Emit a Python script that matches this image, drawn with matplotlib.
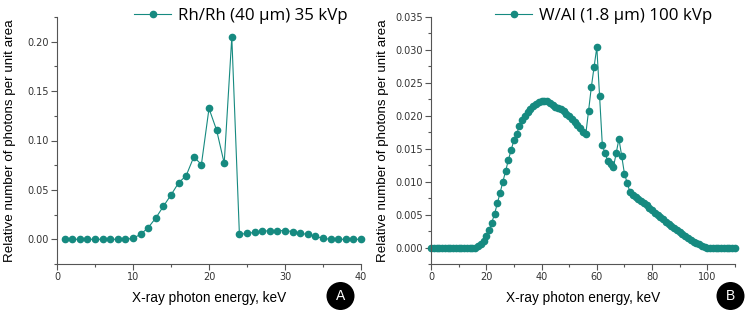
import matplotlib
matplotlib.use("Agg")
import matplotlib.pyplot as plt
from matplotlib.patches import Ellipse
from matplotlib.ticker import MultipleLocator, FormatStrFormatter

# Panel A: Rh/Rh (40 um) 35 kVp
energy_a = list(range(1, 41))
photons_a = [0, 0, 0, 0, 0, 0, 0, 0, 0, 0.001,
             0.005, 0.0118, 0.0216, 0.0334, 0.0449, 0.0571, 0.0645, 0.0834, 0.0757, 0.1324,
             0.1105, 0.077, 0.2047, 0.005, 0.006, 0.007, 0.008, 0.0088, 0.0088, 0.0088,
             0.0078, 0.006, 0.005, 0.003, 0.001, 0, 0, 0, 0, 0]

# Panel B: W/Al (1.8 um) 100 kVp
energy_b = list(range(0, 111))
photons_b = ([0] * 17 +
             [0.0002, 0.0005, 0.001, 0.0017, 0.0026, 0.0038, 0.0051, 0.0067, 0.0083, 0.0100,
              0.0116, 0.0133, 0.0148, 0.0163, 0.0173, 0.0184, 0.0193, 0.0200, 0.0206, 0.0211,
              0.0215, 0.0218, 0.0221, 0.0223, 0.0223, 0.0222, 0.0220, 0.0217, 0.0214, 0.0212,
              0.0210, 0.0207, 0.0203, 0.0199, 0.0195, 0.0190, 0.0186, 0.0181, 0.0176, 0.0172,
              0.0207, 0.0243, 0.0274, 0.0304, 0.0230, 0.0155, 0.0143, 0.0131, 0.0127, 0.0122,
              0.0143, 0.0165, 0.0139, 0.0112, 0.0098, 0.0084, 0.0080, 0.0076, 0.0073, 0.0070,
              0.0067, 0.0064, 0.0060, 0.0057, 0.0053, 0.0050, 0.0046, 0.0043, 0.0039, 0.0036,
              0.0033, 0.0029, 0.0026, 0.0023, 0.0020, 0.0017, 0.0014, 0.0011, 0.0009, 0.0007,
              0.0005, 0.0003, 0.0001, 0.0] +
             [0] * 10)

teal = '#168a80'
W, H = 748, 314

fig = plt.figure(figsize=(7.48, 3.14), dpi=100)


def px_axes(left, top, right, bottom):
    return fig.add_axes([left / W, 1 - bottom / H, (right - left) / W, (bottom - top) / H])


def style(ax):
    for s in ['top', 'right']:
        ax.spines[s].set_visible(False)
    for s in ['left', 'bottom']:
        ax.spines[s].set_color('#555555')
        ax.spines[s].set_linewidth(0.8)
    ax.tick_params(which='major', direction='out', length=4, width=0.8, color='#555555',
                   labelsize=7, labelcolor='#333333', pad=2)
    ax.tick_params(which='minor', direction='out', length=2.5, width=0.8, color='#555555')
    ax.set_xlabel('X-ray photon energy, keV', fontsize=9.8, family='Liberation Sans', labelpad=6)
    ax.set_ylabel('Relative number of photons per unit area', fontsize=9.6, family='Liberation Sans')
    ax.set_facecolor('none')


# ---- panel A
ax1 = px_axes(57, 17, 361, 264)
ax1.plot(energy_a, photons_a, color=teal, lw=0.8, marker='o', ms=4.5, mec=teal, mfc=teal,
         label='Rh/Rh (40 µm) 35 kVp', clip_on=False)
ax1.set_xlim(0, 40)
ax1.set_ylim(-0.025, 0.225)
ax1.xaxis.set_major_locator(MultipleLocator(10))
ax1.xaxis.set_minor_locator(MultipleLocator(5))
ax1.yaxis.set_major_locator(MultipleLocator(0.05))
ax1.yaxis.set_minor_locator(MultipleLocator(0.025))
ax1.yaxis.set_major_formatter(FormatStrFormatter('%.2f'))
style(ax1)
ax1.yaxis.set_label_coords(-0.135, 0.5)

# ---- panel B
ax2 = px_axes(431, 17, 735, 264)
ax2.plot(energy_b, photons_b, color=teal, lw=0.8, marker='o', ms=4.5, mec=teal, mfc=teal,
         label='W/Al (1.8 µm) 100 kVp', clip_on=False)
ax2.set_xlim(0, 110)
ax2.set_ylim(-0.0025, 0.035)
ax2.xaxis.set_major_locator(MultipleLocator(20))
ax2.xaxis.set_minor_locator(MultipleLocator(10))
ax2.yaxis.set_major_locator(MultipleLocator(0.005))
ax2.yaxis.set_minor_locator(MultipleLocator(0.0025))
ax2.yaxis.set_major_formatter(FormatStrFormatter('%.3f'))
style(ax2)
ax2.yaxis.set_label_coords(-0.138, 0.5)

for ax, lx in [(ax1, 134), (ax2, 495)]:
    ax.legend(loc='center left', bbox_to_anchor=(lx / W, 1 - 16 / H), bbox_transform=fig.transFigure,
              frameon=False, borderpad=0, borderaxespad=0, handlelength=2.2, handletextpad=0.4,
              prop={'family': 'Open Sans', 'size': 12.2})

# round badges
for cx, letter in [(340.5, 'A'), (730.5, 'B')]:
    fig.patches.append(Ellipse((cx / W, 1 - 296 / H), 28 / W, 28 / H, transform=fig.transFigure,
                               facecolor='black', edgecolor='none'))
    fig.text(cx / W, 1 - 296 / H, letter, color='white', ha='center', va='center',
             fontsize=10, family='Liberation Sans')

fig.savefig('out.png', dpi=100)
